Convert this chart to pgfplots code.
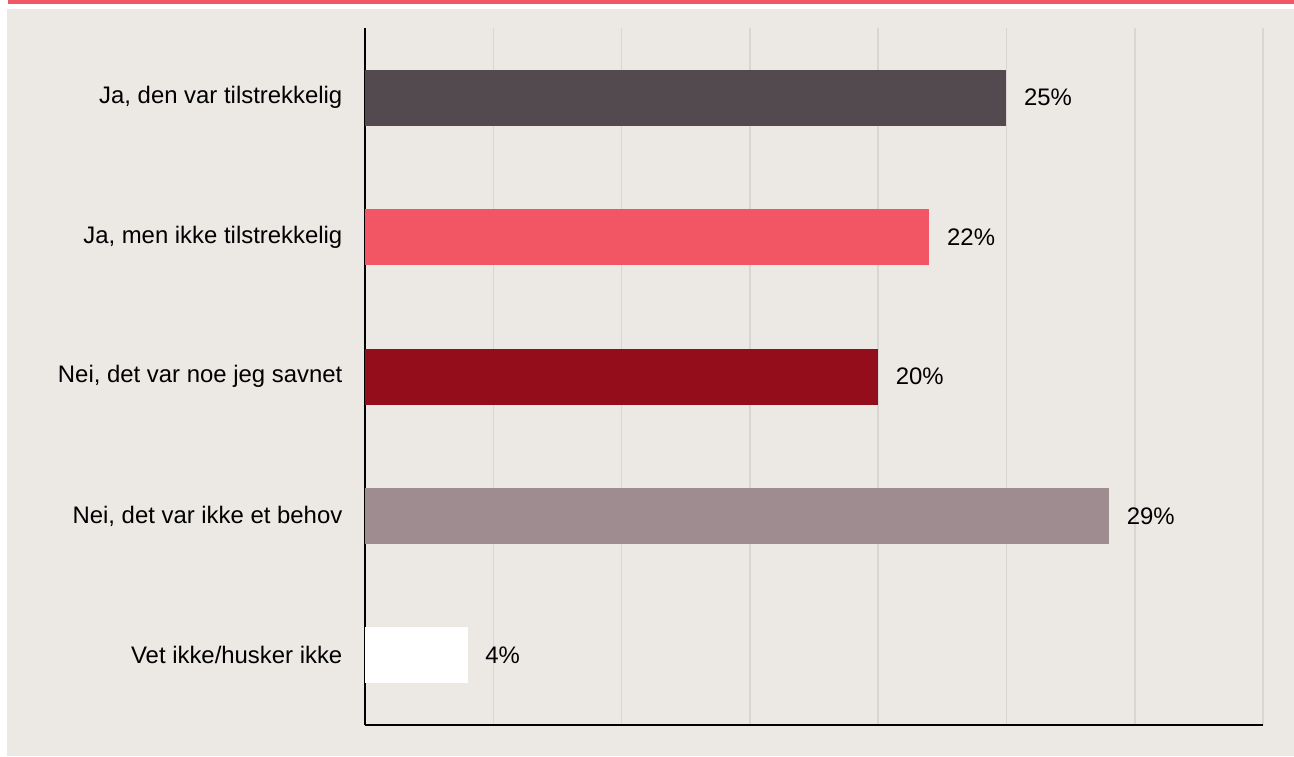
\documentclass[border=0pt]{standalone}
\usepackage{pgfplots}
\pgfplotsset{compat=1.18}
\usepackage{fontspec}
\setmainfont{Liberation Sans}
\definecolor{panel}{HTML}{ECE8E4}
\definecolor{topred}{HTML}{F25767}
\definecolor{cA}{HTML}{524A4E}
\definecolor{cB}{HTML}{F25664}
\definecolor{cC}{HTML}{930E1A}
\definecolor{cD}{HTML}{9E8C91}
\definecolor{gridc}{HTML}{D8D5D2}
\begin{document}
\begin{tikzpicture}
% 1 px of the reference = 0.1 mm
\fill[white] (0mm,0mm) rectangle (129.4mm,75.6mm);
\fill[panel] (0.7mm,0mm) rectangle (129.4mm,74.7mm);
\fill[topred] (0.8mm,75.2mm) rectangle (129.4mm,75.6mm);
\begin{axis}[
    at={(36.5mm,3.1mm)}, anchor=south west,
    scale only axis, width=89.8mm, height=69.7mm,
    xmin=0, xmax=35, ymin=-0.5, ymax=4.5,
    y dir=reverse,
    xbar, bar width=5.6mm, bar shift=0pt,
    axis x line=bottom, axis y line=left,
    axis line style={-, black, line width=0.6pt},
    xtick={0,5,...,35}, xticklabels={},
    xmajorgrids, grid style={gridc, line width=0.45pt},
    ytick={0,1,2,3,4},
    yticklabels={{Ja, den var tilstrekkelig}, {Ja, men ikke tilstrekkelig}, {Nei, det var noe jeg savnet}, {Nei, det var ikke et behov}, {Vet ikke/husker ikke}},
    major tick length=0pt,
    yticklabel style={font=\fontsize{6.8pt}{8pt}\selectfont, inner sep=0pt, xshift=-2.2mm},
    /pgf/number format/assume math mode=true,
    point meta=x,
    nodes near coords={\pgfmathprintnumber{\pgfplotspointmeta}\%},
    nodes near coords style={font=\fontsize{6.8pt}{8pt}\selectfont, anchor=west, inner sep=0pt, xshift=1.7mm, black},
]
\addplot[fill=cA, draw=none] coordinates {(25,0)};
\addplot[fill=cB, draw=none] coordinates {(22,1)};
\addplot[fill=cC, draw=none] coordinates {(20,2)};
\addplot[fill=cD, draw=none] coordinates {(29,3)};
\addplot[fill=white, draw=none] coordinates {(4,4)};
\end{axis}
\end{tikzpicture}
\end{document}
